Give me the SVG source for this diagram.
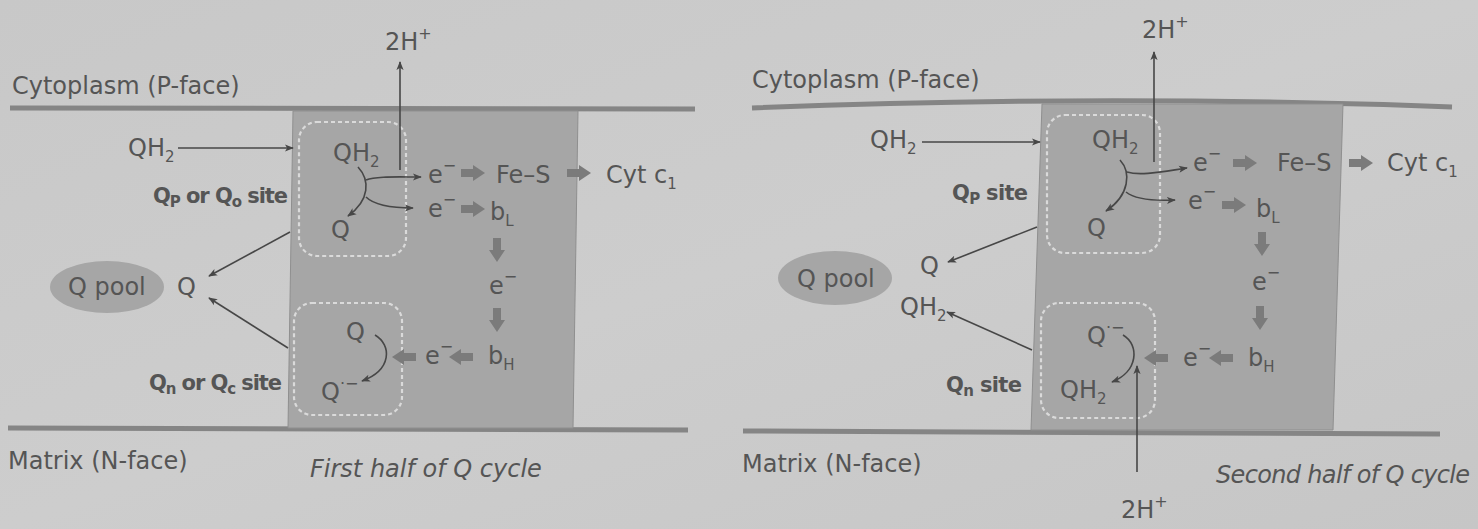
<svg xmlns="http://www.w3.org/2000/svg" width="1478" height="529" viewBox="0 0 1478 529">
<defs>
<linearGradient id="bg" x1="0" y1="0" x2="1" y2="1">
<stop offset="0" stop-color="#c8c8c8"/>
<stop offset="0.5" stop-color="#cdcdcd"/>
<stop offset="1" stop-color="#c6c6c6"/>
</linearGradient>
<marker id="ah" viewBox="0 0 10 10" refX="9" refY="5" markerWidth="9" markerHeight="9" markerUnits="userSpaceOnUse" orient="auto">
<path d="M0,1 L10,5 L0,9 L2.5,5 Z" fill="#474747"/>
</marker>
<path id="blk" d="M0,-4 H12 V-8 L24,0 L12,8 V4 H0 Z" fill="#7b7b7b"/>
<style>
text{font-family:"DejaVu Sans","Liberation Sans",sans-serif;fill:#555555;font-size:24px}
.b{font-weight:bold;font-size:21px}
.i{font-style:italic}
.sub{font-size:15px}
.sup{font-size:16px}
.bar{stroke:#858585;stroke-width:5;fill:none}
.box{fill:#a6a6a6;stroke:#8f8f8f;stroke-width:1}
.site{fill:none;stroke:#dadada;stroke-width:2.2;stroke-dasharray:4 3}
.pool{fill:#a6a6a6}
.c{fill:none;stroke:#474747;stroke-width:1.6}
.a{marker-end:url(#ah)}
</style>
</defs>
<rect width="1478" height="529" fill="url(#bg)"/>

<!-- LEFT PANEL -->
<g id="left-membrane">
<path class="bar" d="M10,108 L695,109"/>
<path class="bar" d="M8,428 L688,430"/>
<text x="12" y="94">Cytoplasm (P-face)</text>
<text x="8" y="469">Matrix (N-face)</text>
<text x="310" y="477" class="i">First half of Q cycle</text>
</g>
<g id="left-complex">
<path class="box" d="M293,111 L578,111 L573,428 L288,428 Z"/>
</g>
<g id="left-qp-site">
<rect class="site" x="299" y="122" width="107" height="134" rx="18"/>
<text x="333" y="161">QH<tspan class="sub" dy="6">2</tspan></text>
<text x="331" y="238">Q</text>
</g>
<g id="left-qn-site">
<rect class="site" x="294" y="303" width="108" height="112" rx="18"/>
<text x="346" y="340">Q</text>
<text x="321" y="400">Q<tspan class="sup" dy="-11">·−</tspan></text>
</g>
<g id="left-chain">
<text x="428" y="183">e<tspan class="sup" dy="-12">−</tspan></text>
<text x="496" y="183">Fe–S</text>
<text x="606" y="183">Cyt c<tspan class="sub" dy="6">1</tspan></text>
<text x="428" y="217">e<tspan class="sup" dy="-12">−</tspan></text>
<text x="490" y="220">b<tspan class="sub" dy="6">L</tspan></text>
<text x="489" y="294">e<tspan class="sup" dy="-12">−</tspan></text>
<text x="425" y="364">e<tspan class="sup" dy="-12">−</tspan></text>
<text x="488" y="364">b<tspan class="sub" dy="6">H</tspan></text>
</g>
<g id="left-pool">
<ellipse class="pool" cx="107" cy="287" rx="57" ry="26"/>
<text x="68" y="295">Q pool</text>
<text x="177" y="295">Q</text>
</g>
<g id="left-labels">
<text x="128" y="156">QH<tspan class="sub" dy="6">2</tspan></text>
<text x="153" y="203" class="b" textLength="135">Q<tspan class="sub" dy="4">P</tspan><tspan dy="-4"> or Q</tspan><tspan class="sub" dy="4">o</tspan><tspan dy="-4"> site</tspan></text>
<text x="149" y="390" class="b" textLength="133">Q<tspan class="sub" dy="4">n</tspan><tspan dy="-4"> or Q</tspan><tspan class="sub" dy="4">c</tspan><tspan dy="-4"> site</tspan></text>
<text x="385" y="50">2H<tspan class="sup" dy="-11">+</tspan></text>
</g>

<!-- RIGHT PANEL -->
<g id="right-membrane">
<path class="bar" d="M752,108 Q1100,94 1452,107"/>
<path class="bar" d="M743,431 L1440,434"/>
<text x="752" y="88">Cytoplasm (P-face)</text>
<text x="742" y="472">Matrix (N-face)</text>
<text x="1216" y="483" class="i" font-size="22" textLength="254">Second half of Q cycle</text>
</g>
<g id="right-complex">
<path class="box" d="M1042,104 L1343,104 L1333,430 L1031,430 Z"/>
</g>
<g id="right-qp-site">
<rect class="site" x="1047" y="115" width="113" height="138" rx="18"/>
<text x="1092" y="148">QH<tspan class="sub" dy="6">2</tspan></text>
<text x="1087" y="236">Q</text>
</g>
<g id="right-qn-site">
<rect class="site" x="1041" y="303" width="114" height="115" rx="18"/>
<text x="1087" y="344">Q<tspan class="sup" dy="-11">·−</tspan></text>
<text x="1060" y="398">QH<tspan class="sub" dy="6">2</tspan></text>
</g>
<g id="right-chain">
<text x="1193" y="171">e<tspan class="sup" dy="-12">−</tspan></text>
<text x="1277" y="171">Fe–S</text>
<text x="1387" y="171">Cyt c<tspan class="sub" dy="6">1</tspan></text>
<text x="1188" y="209">e<tspan class="sup" dy="-12">−</tspan></text>
<text x="1256" y="217">b<tspan class="sub" dy="6">L</tspan></text>
<text x="1252" y="290">e<tspan class="sup" dy="-12">−</tspan></text>
<text x="1183" y="366">e<tspan class="sup" dy="-12">−</tspan></text>
<text x="1248" y="366">b<tspan class="sub" dy="6">H</tspan></text>
</g>
<g id="right-pool">
<ellipse class="pool" cx="835" cy="278" rx="57" ry="27"/>
<text x="797" y="287">Q pool</text>
<text x="920" y="274">Q</text>
<text x="900" y="315">QH<tspan class="sub" dy="6">2</tspan></text>
</g>
<g id="right-labels">
<text x="870" y="148">QH<tspan class="sub" dy="6">2</tspan></text>
<text x="952" y="200" class="b" textLength="76">Q<tspan class="sub" dy="4">P</tspan><tspan dy="-4"> site</tspan></text>
<text x="946" y="392" class="b" textLength="76">Q<tspan class="sub" dy="4">n</tspan><tspan dy="-4"> site</tspan></text>
<text x="1142" y="38">2H<tspan class="sup" dy="-11">+</tspan></text>
<text x="1121" y="518">2H<tspan class="sup" dy="-11">+</tspan></text>
</g>

<!-- CONNECTORS -->
<g id="connectors">
<!-- left -->
<path class="c a" d="M178,148 L293,148"/>
<path class="c a" d="M400,170 L400,62"/>
<path class="c a" d="M358,167 C370,180 370,200 348,216"/>
<path class="c a" d="M366,180 C376,176 396,177 421,177"/>
<path class="c a" d="M366,197 C374,205 394,208 413,208"/>
<path class="c a" d="M290,232 L209,276"/>
<path class="c a" d="M288,348 L209,298"/>
<path class="c a" d="M375,335 C392,345 392,370 362,381"/>
<use href="#blk" transform="translate(461,173)"/>
<use href="#blk" transform="translate(567,173)"/>
<use href="#blk" transform="translate(461,209)"/>
<use href="#blk" transform="translate(497,238) rotate(90)"/>
<use href="#blk" transform="translate(497,308) rotate(90)"/>
<use href="#blk" transform="translate(416,357) rotate(180)"/>
<use href="#blk" transform="translate(473,357) rotate(180)"/>
<!-- right -->
<path class="c a" d="M922,142 L1040,142"/>
<path class="c a" d="M1154,162 L1154,52"/>
<path class="c a" d="M1120,160 C1131,172 1130,195 1106,211"/>
<path class="c a" d="M1127,172 C1140,176 1160,172 1187,168"/>
<path class="c a" d="M1126,192 C1136,200 1155,201 1175,200"/>
<path class="c a" d="M1037,227 L948,262"/>
<path class="c a" d="M1032,350 L947,312"/>
<path class="c a" d="M1123,335 C1140,345 1138,372 1112,382"/>
<path class="c a" d="M1137,472 L1137,366"/>
<use href="#blk" transform="translate(1233,163)"/>
<use href="#blk" transform="translate(1349,163)"/>
<use href="#blk" transform="translate(1222,205)"/>
<use href="#blk" transform="translate(1262,232) rotate(90)"/>
<use href="#blk" transform="translate(1260,306) rotate(90)"/>
<use href="#blk" transform="translate(1168,358) rotate(180)"/>
<use href="#blk" transform="translate(1233,358) rotate(180)"/>
</g>
</svg>
